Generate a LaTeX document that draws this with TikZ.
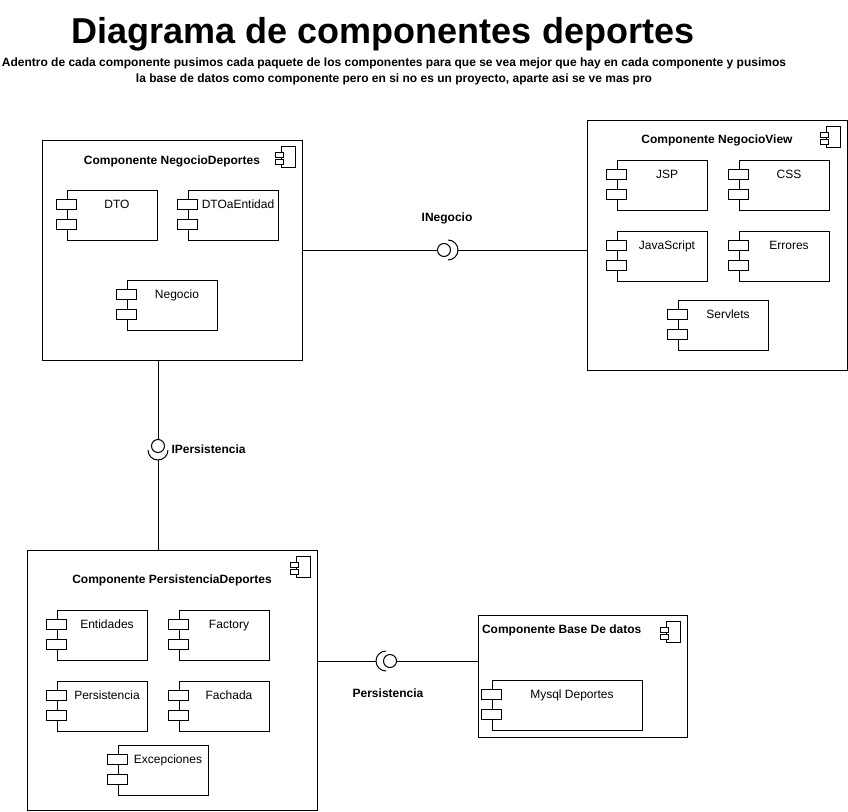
\documentclass[tikz,border=0pt]{standalone}
\usepackage{fontspec}
\setmainfont{Liberation Sans}
\usepackage{tikz}
\usetikzlibrary{positioning,calc}

% icono de componente UML
\tikzset{
  compicon/.pic={
    \draw (0,0) rectangle (14,21);
    \draw[fill=white] (-6,6) rectangle (2,11);
    \draw[fill=white] (-6,13) rectangle (2,18);
  }
}

\begin{document}
\begin{tikzpicture}[
    x=1pt, y=-1pt,
    line width=1pt,
    font=\fontsize{12}{14}\selectfont,
    comp/.style={draw, inner sep=0pt},
    ctitle/.style={font=\bfseries\fontsize{12}{14}\selectfont, anchor=base, inner sep=0pt},
    part/.style={draw, fill=white, minimum width=90pt, minimum height=50pt, align=center,
                 inner xsep=0pt, inner ysep=0pt, text height=18pt, text depth=32pt,
                 execute at begin node=\hspace*{10pt}},
    ball/.style={draw, circle, fill=white, minimum size=13pt, inner sep=0pt},
    ilabel/.style={font=\bfseries\fontsize{12}{14}\selectfont, anchor=base, inner sep=0pt}
]
\useasboundingbox (0,0) rectangle (848,811);

% titulo
\node[font=\bfseries\fontsize{36}{40}\selectfont, anchor=base, inner sep=0pt] (title) at (383,43) {Diagrama de componentes deportes};
\node[font=\bfseries\fontsize{12}{16}\selectfont, align=center, anchor=base, inner sep=0pt] (subtitle) at (394,82)
  {Adentro de cada componente pusimos cada paquete de los componentes para que se vea mejor que hay en cada componente y pusimos\\
   la base de datos como componente pero en si no es un proyecto, aparte asi se ve mas pro};

% Componente NegocioDeportes
\node[comp, minimum width=260pt, minimum height=220pt] (negdep) at (172,250) {};
\node[ctitle] (negdepT) at ($(negdep.north)+(0,25)$) {Componente NegocioDeportes};
\node[part] (dto) at (112,215) {DTO};
\node[part, right=30pt of dto] (dtoent) {DTOaEntidad};
\node[part] (neg) at (172,305) {Negocio};

% Componente NegocioView
\node[comp, minimum width=260pt, minimum height=250pt] (negview) at (717,245) {};
\node[ctitle] (negviewT) at ($(negview.north)+(0,24)$) {Componente NegocioView};
\node[part] (jsp) at (662,185) {JSP};
\node[part, right=31pt of jsp] (css) {CSS};
\node[part, below=20pt of jsp] (jscript) {JavaScript};
\node[part, below=20pt of css] (errores) {Errores};
\node[part] (servlets) at (723,325) {Servlets};

% Componente PersistenciaDeportes
\node[comp, minimum width=290pt, minimum height=260pt] (perdep) at (172,680) {};
\node[ctitle] (perdepT) at ($(perdep.north)+(0,34)$) {Componente PersistenciaDeportes};
\node[part] (entidades) at (102,635) {Entidades};
\node[part, right=31pt of entidades] (factory) {Factory};
\node[part, below=20pt of entidades] (persis) {Persistencia};
\node[part, below=20pt of factory] (fachada) {Fachada};
\node[part] (excep) at (163,770) {Excepciones};

% Componente Base De datos
\node[comp, minimum width=209pt, minimum height=122pt] (bd) at (582.5,676) {};
\node[ctitle, anchor=base west] (bdT) at ($(bd.north west)+(4,19)$) {Componente Base De datos};
\node[part, minimum width=150pt] (mysql) at (567,705) {Mysql Deportes};

% iconos
\foreach \c in {negdep,negview,perdep,bd}
  \pic at ($(\c.north east)+(-21,7)$) {compicon};
\foreach \p in {dto,dtoent,neg,jsp,css,jscript,errores,servlets,entidades,factory,persis,fachada,excep,mysql} {
  \draw[fill=white] ($(\p.north west)+(-10,10)$) rectangle ++(20,10);
  \draw[fill=white] ($(\p.north west)+(-10,30)$) rectangle ++(20,10);
}

% interfaz INegocio
\node[ball] (ineg) at (444,250) {};
\coordinate (inegS) at ($(ineg)+(4,0)$);
\coordinate (inegR) at ($(inegS)+(10,0)$);
\draw (negdep.east) -- (ineg.west);
\draw ($(inegS)+(0,-10)$) arc[start angle=90, end angle=-90, radius=10pt];
\draw (inegR) -- (inegR -| negview.west);
\node[ilabel] (inegL) at ($(ineg)+(3,-29)$) {INegocio};

% interfaz IPersistencia
\node[ball] (iper) at (158,446) {};
\coordinate (iperS) at ($(iper)+(0,4)$);
\coordinate (iperB) at ($(iperS)+(0,10)$);
\draw (iper.north) -- (iper.north |- negdep.south);
\draw ($(iperS)+(-10,0)$) arc[start angle=180, end angle=360, radius=10pt];
\draw (iperB) -- (iperB |- perdep.north);
\node[ilabel, anchor=base west] (iperL) at ($(iper)+(13,7)$) {IPersistencia};

% interfaz Persistencia
\node[ball] (ibd) at (390,661) {};
\coordinate (ibdS) at ($(ibd)+(-4,0)$);
\coordinate (ibdL) at ($(ibdS)+(-10,0)$);
\draw ($(ibdS)+(0,-10)$) arc[start angle=90, end angle=270, radius=10pt];
\draw (ibdL) -- (ibdL -| perdep.east);
\draw (ibd.east) -- (ibd.east -| bd.west);
\node[ilabel] (ibdT) at ($(ibd)+(-2,36)$) {Persistencia};

\end{tikzpicture}
\end{document}
